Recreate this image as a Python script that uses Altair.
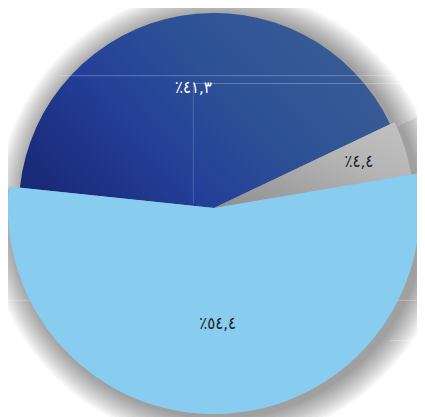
import math
import altair as alt
import pandas as pd

# ---- data ----
cats = ["A", "B", "C"]
values = [41.3, 4.4, 54.4]
labels = ["٪٤١,٣", "٪٤,٤", "٪٥٤,٤"]
order = [0, 1, 2]

df = pd.DataFrame({"cat": cats, "value": values, "label": labels, "ord": order})

# ---- layout / style ----
W, H = 417, 409
CX, CY = 210, 200
START = math.radians(-84)
theta_scale = alt.Scale(domain=[0, 1], range=[START, START + 2 * math.pi])
radius = {"A": 199, "B": 204, "C": 210}

base = (
    alt.Chart(df)
    .transform_joinaggregate(total="sum(value)")
    .transform_window(cum="sum(value)", sort=[alt.SortField("ord")], frame=[None, 0])
    .transform_calculate(
        t0="(datum.cum - datum.value) / datum.total",
        t1="datum.cum / datum.total",
        tm="(datum.cum - datum.value / 2) / datum.total",
    )
)


def arc_enc(dx=0, dy=0):
    return dict(
        theta=alt.Theta("t0:Q", stack=None, scale=theta_scale),
        theta2="t1:Q",
        x=alt.value(CX + dx),
        y=alt.value(CY + dy),
    )


layers = []

# soft drop shadow
for k in range(1, 12):
    for c in cats:
        layers.append(
            base.transform_filter(alt.datum.cat == c)
            .mark_arc(fill="black", opacity=0.04, radius=radius[c] + 2.5 * k)
            .encode(**arc_enc(5, 3))
        )

dark_fill = alt.LinearGradient(
    gradient="linear",
    stops=[
        alt.GradientStop(color="#1a2a78", offset=0),
        alt.GradientStop(color="#233e98", offset=0.3),
        alt.GradientStop(color="#2d5196", offset=0.6),
        alt.GradientStop(color="#3b5d95", offset=1),
    ],
    x1=0, y1=0.75, x2=1, y2=0.25,
)
gray_fill = alt.LinearGradient(
    gradient="linear",
    stops=[
        alt.GradientStop(color="#8e8e8e", offset=0),
        alt.GradientStop(color="#b4b4b4", offset=0.6),
        alt.GradientStop(color="#c2c2c2", offset=1),
    ],
    x1=0, y1=1, x2=1, y2=0,
)

layers.append(
    base.transform_filter(alt.datum.cat == "A")
    .mark_arc(fill=dark_fill, radius=radius["A"])
    .encode(**arc_enc())
)
layers.append(
    base.transform_filter(alt.datum.cat == "B")
    .mark_arc(fill=gray_fill, radius=radius["B"])
    .encode(**arc_enc())
)

# faint background grid lines of the original
grid = [
    (52, 417, 65),
    (189, 417, 73),
    (0, 417, 294),
    (390, 417, 335),
]
for x1, x2, y1 in grid:
    layers.append(
        alt.Chart(df).transform_filter(alt.datum.ord == 0)
        .mark_rule(color="white", opacity=0.28, strokeWidth=1)
        .encode(x=alt.value(x1), x2=alt.value(x2), y=alt.value(y1))
    )
layers.append(
    alt.Chart(df).transform_filter(alt.datum.ord == 0)
    .mark_rule(color="white", opacity=0.18, strokeWidth=1)
    .encode(x=alt.value(189), y=alt.value(73), y2=alt.value(195))
)

layers.append(
    base.transform_filter(alt.datum.cat == "C")
    .mark_arc(fill="#88cdf0", radius=radius["C"])
    .encode(**arc_enc())
)

# labels
label_style = {
    "A": (124, "white"),
    "B": (155, "#1c1c1c"),
    "C": (118, "#1c1c1c"),
}
for c in cats:
    r, col = label_style[c]
    layers.append(
        base.transform_filter(alt.datum.cat == c)
        .mark_text(
            radius=r, font="DejaVu Sans Condensed", fontSize=17,
            color=col, align="center", baseline="middle",
        )
        .encode(
            theta=alt.Theta("tm:Q", stack=None, scale=theta_scale),
            x=alt.value(CX),
            y=alt.value(CY),
            text="label:N",
        )
    )

chart = (
    alt.layer(*layers)
    .properties(width=W, height=H, padding=0, autosize="none")
    .configure_view(stroke=None)
)

chart.save("out.html", embed_options={"renderer": "svg", "actions": False})
